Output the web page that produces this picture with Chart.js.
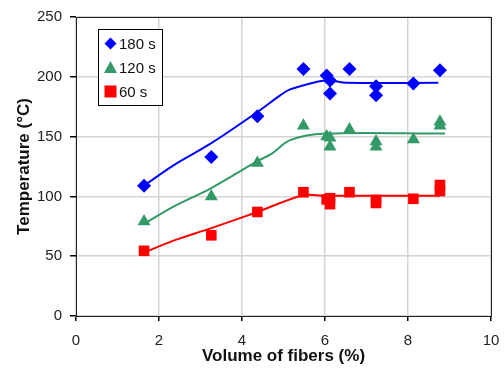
<!DOCTYPE html>
<html lang="en">
<head>
  <meta charset="UTF-8">
  <title>Temperature vs volume of fibers</title>
  <script src="https://cdn.jsdelivr.net/npm/chart.js"></script>
  <style>
    html, body { margin: 0; padding: 0; background: #fff; }
    #wrap { width: 504px; height: 368px; }
  </style>
</head>
<body>
  <div id="wrap"><canvas id="chart" width="504" height="368"></canvas></div>

  <script>
    // measured points
    const x180 = [1.64, 3.26, 4.37, 5.48, 6.04, 6.12, 6.12, 6.59, 7.23, 7.23, 8.13, 8.77];
    const y180 = [109, 133, 167, 206.5, 201, 197, 186, 206.5, 192, 184.5, 194.5, 205.5];
    const x120 = [1.64, 3.26, 4.37, 5.48, 6.04, 6.12, 6.12, 6.59, 7.23, 7.23, 8.13, 8.77, 8.77];
    const y120 = [79, 100, 128, 159, 150, 149, 141.5, 156, 146, 141.5, 147.5, 162.5, 159];
    const x60 = [1.64, 3.26, 4.37, 5.48, 6.04, 6.12, 6.12, 6.59, 7.23, 7.23, 8.13, 8.77, 8.77];
    const y60 = [54.5, 67.5, 87, 103.5, 97.5, 98.5, 93.5, 103.5, 97, 94.5, 98, 109.5, 104.5];

    // fitted trend curves
    const fitX180 = [1.64, 2.35, 3.26, 4.37, 4.92, 5.16, 6.0, 6.52, 8.73];
    const fitY180 = [109, 126, 144.5, 170.5, 184.5, 189.5, 197, 195, 195];
    const fitX120 = [1.64, 2.35, 3.26, 4.37, 4.71, 5.16, 6.0, 8.89];
    const fitY120 = [77, 91.5, 107, 129.5, 135.5, 147, 152.5, 152.5];
    const fitX60 = [1.64, 2.35, 3.26, 4.37, 5.48, 6.0, 8.77];
    const fitY60 = [53, 63, 73.5, 87, 101, 100.5, 100.5];

    const xTicks = [0, 2, 4, 6, 8, 10];
    const yTicks = [0, 50, 100, 150, 200, 250];

    const seriesLabels = ['180 s', '120 s', '60 s'];
    const BLUE = '#0000ff', GREEN = '#339966', RED = '#ff0000';

    function pts(xs, ys) { return xs.map((x, i) => ({ x: x, y: ys[i] })); }

    const boxPlugin = {
      id: 'box',
      afterDraw(chart) {
        const a = chart.chartArea, ctx = chart.ctx;
        ctx.save();
        ctx.strokeStyle = '#222';
        ctx.lineWidth = 1;
        ctx.strokeRect(Math.round(a.left) + 0.5, Math.round(a.top) + 0.5,
          Math.round(a.right - a.left), Math.round(a.bottom - a.top));
        // legend
        const lx = 98, ly = 29, lw = 64, lh = 76;
        ctx.fillStyle = '#fff';
        ctx.fillRect(lx, ly, lw, lh);
        ctx.strokeStyle = '#000';
        ctx.strokeRect(lx + 0.5, ly + 0.5, lw, lh);
        const rows = [43.5, 67.5, 91.5];
        const colors = [BLUE, GREEN, RED];
        ctx.font = '15px "Liberation Sans", Arial, sans-serif';
        ctx.textBaseline = 'middle';
        rows.forEach((ry, i) => {
          const cx = 110.5;
          ctx.fillStyle = colors[i];
          ctx.beginPath();
          if (i === 0) {
            ctx.moveTo(cx, ry - 6); ctx.lineTo(cx + 6, ry); ctx.lineTo(cx, ry + 6); ctx.lineTo(cx - 6, ry);
          } else if (i === 1) {
            ctx.moveTo(cx, ry - 6.5); ctx.lineTo(cx + 6.5, ry + 5.5); ctx.lineTo(cx - 6.5, ry + 5.5);
          } else {
            ctx.rect(cx - 6, ry - 6, 12, 12);
          }
          ctx.closePath();
          ctx.fill();
          ctx.fillStyle = '#111';
          ctx.fillText(seriesLabels[i], 119, ry + 1);
        });
        ctx.restore();
      }
    };

    const fitLine = (xs, ys, c) => ({
      type: 'line', data: pts(xs, ys), borderColor: c, borderWidth: 2,
      pointRadius: 0, tension: 0.35, fill: false, order: 2
    });
    const marks = (xs, ys, c, style, r) => ({
      type: 'scatter', data: pts(xs, ys), backgroundColor: c, borderColor: c,
      pointStyle: style, pointRadius: r, borderWidth: 0, order: 1
    });

    new Chart(document.getElementById('chart').getContext('2d'), {
      type: 'scatter',
      data: {
        datasets: [
          fitLine(fitX180, fitY180, BLUE),
          fitLine(fitX120, fitY120, GREEN),
          fitLine(fitX60, fitY60, RED),
          marks(x180, y180, BLUE, 'rectRot', 7),
          marks(x120, y120, GREEN, 'triangle', 7.5),
          marks(x60, y60, RED, 'rect', 7.5)
        ]
      },
      plugins: [boxPlugin],
      options: {
        responsive: false,
        animation: false,
        layout: { padding: { top: 17, right: 13, left: 0, bottom: 0 } },
        plugins: { legend: { display: false }, tooltip: { enabled: false } },
        scales: {
          x: {
            type: 'linear', min: 0, max: 10,
            afterBuildTicks: s => { s.ticks = xTicks.map(v => ({ value: v })); },
            afterFit: s => { s.height = 52; s.paddingLeft = 0; s.paddingRight = 0; },
            grid: { color: '#d4d4d4', tickColor: '#000', tickLength: 5, lineWidth: 1.5 },
            border: { color: '#000', width: 1 },
            ticks: { color: '#222', font: { size: 15, family: '"Liberation Sans", Arial, sans-serif' }, padding: 11 },
            title: { display: true, text: 'Volume of fibers (%)', color: '#111', padding: { top: -2, bottom: 1 },
              font: { size: 17, weight: 'bold', family: '"Liberation Sans", Arial, sans-serif' } }
          },
          y: {
            type: 'linear', min: 0, max: 250,
            afterBuildTicks: s => { s.ticks = yTicks.map(v => ({ value: v })); },
            afterFit: s => { s.width = 76; },
            grid: { color: '#d4d4d4', tickColor: '#000', tickLength: 6, lineWidth: 1.5 },
            border: { color: '#000', width: 1 },
            ticks: { color: '#222', font: { size: 15, family: '"Liberation Sans", Arial, sans-serif' }, padding: 8 },
            title: { display: true, text: 'Temperature (°C)', color: '#111', padding: { top: 14, bottom: 0 },
              font: { size: 17, weight: 'bold', family: '"Liberation Sans", Arial, sans-serif' } }
          }
        }
      }
    });
  </script>
</body>
</html>
